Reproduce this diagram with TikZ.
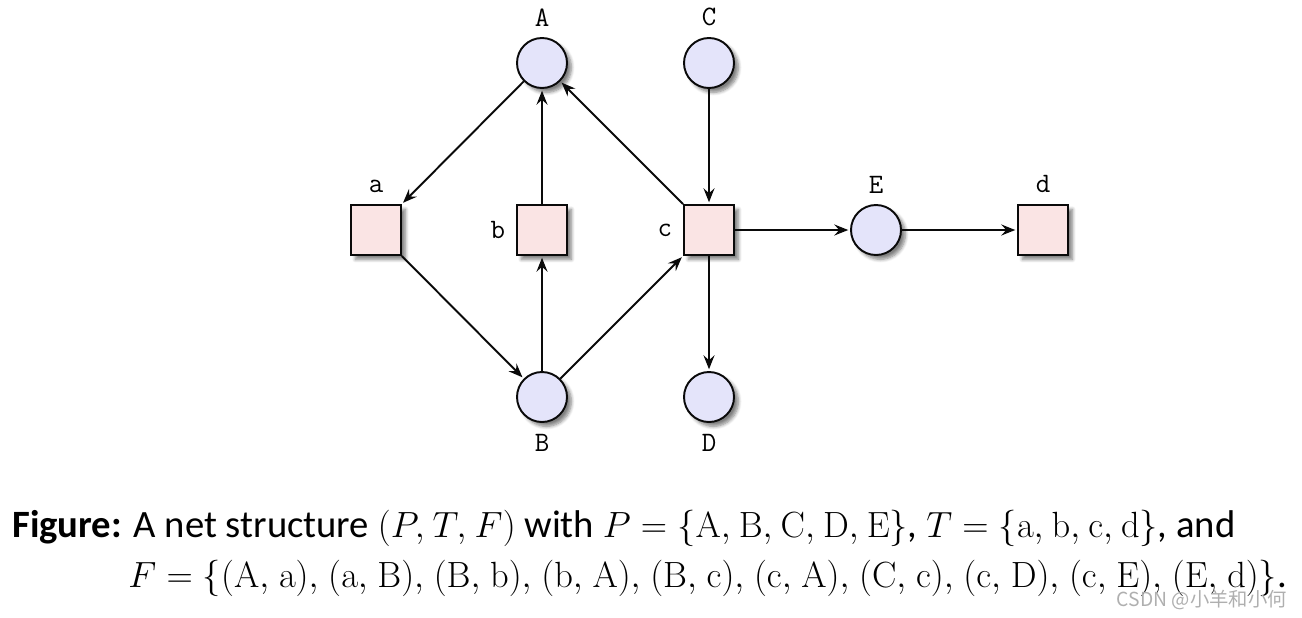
\documentclass[tikz,border=0pt]{standalone}
\usepackage[no-math]{fontspec}
\setmainfont{Carlito}
\newfontfamily\cjkfont{Noto Sans CJK SC}
\usetikzlibrary{positioning, arrows.meta, shadows.blur}
\definecolor{PlaceLilac}{RGB}{228, 228, 250}
\definecolor{TransRose}{RGB}{250, 228, 228}
\definecolor{NetBlack}{RGB}{10, 10, 10}
\definecolor{MarkGrey}{RGB}{175, 175, 175}

\begin{document}
\begin{tikzpicture}[
    netshadow/.style={blur shadow={shadow xshift=2.5pt, shadow yshift=-2.5pt, shadow blur steps=6, shadow opacity=50}},
    place/.style={circle, draw=NetBlack, line width=1.1pt, fill=PlaceLilac, minimum size=1cm, inner sep=0pt, netshadow},
    transition/.style={rectangle, draw=NetBlack, line width=1.1pt, fill=TransRose, minimum size=1cm, inner sep=0pt, netshadow},
    every label/.style={font=\fontsize{16}{18}\ttfamily, inner sep=0pt},
    label distance=6pt,
    arc/.style={-{Stealth[length=2.8mm, width=2.2mm, inset=1mm]}, line width=1.1pt, NetBlack, shorten >=1pt}
]
    \useasboundingbox (0,0) rectangle (26.04,12.34);

    % Lugares
    \node[place, label=above:A] (A) at (10.84,11.08) {};
    \node[place, label=above:C] (C) at (14.18,11.08) {};
    \node[place, label=above:E] (E) at (17.52,7.74) {};
    \node[place, label=below:B] (B) at (10.84,4.40) {};
    \node[place, label=below:D] (D) at (14.18,4.40) {};

    % Transiciones
    \node[transition, label=above:a] (a) at (7.52,7.74) {};
    \node[transition, label=left:b] (b) at (10.84,7.74) {};
    \node[transition, label=left:c] (c) at (14.18,7.74) {};
    \node[transition, label=above:d] (d) at (20.86,7.74) {};

    % Arcos
    \draw[arc] (A) -- (a);
    \draw[arc] (a) -- (B);
    \draw[arc] (B) -- (b);
    \draw[arc] (b) -- (A);
    \draw[arc] (B) -- (c);
    \draw[arc] (c) -- (A);
    \draw[arc] (C) -- (c);
    \draw[arc] (c) -- (D);
    \draw[arc] (c) -- (E);
    \draw[arc] (E) -- (d);

    % Pie de figura
    \node[anchor=base west, inner sep=0pt, font=\fontsize{22}{26}\selectfont] (cap1) at (0.24,1.6)
        {\textbf{Figure:} A net structure $\thinmuskip=4mu (P,T,F)$ with $\thinmuskip=4mu P=\{\mathrm{A},\mathrm{B},\mathrm{C},\mathrm{D},\mathrm{E}\}$, $\thinmuskip=4mu T=\{\mathrm{a},\mathrm{b},\mathrm{c},\mathrm{d}\}$, and};
    \node[anchor=base west, inner sep=0pt, font=\fontsize{22}{26}\selectfont] (cap2) at (2.56,0.6)
        {$\thinmuskip=4.8mu F=\{(\mathrm{A},\mathrm{a}),(\mathrm{a},\mathrm{B}),(\mathrm{B},\mathrm{b}),(\mathrm{b},\mathrm{A}),(\mathrm{B},\mathrm{c}),(\mathrm{c},\mathrm{A}),(\mathrm{C},\mathrm{c}),(\mathrm{c},\mathrm{D}),(\mathrm{c},\mathrm{E}),(\mathrm{E},\mathrm{d})\}$.};

    % Marca
    \node[anchor=east, inner sep=0pt, text=MarkGrey, font=\cjkfont\fontsize{11}{13}\selectfont] (mark) at (25.74,0.34) {CSDN @小羊和小何};
\end{tikzpicture}
\end{document}
